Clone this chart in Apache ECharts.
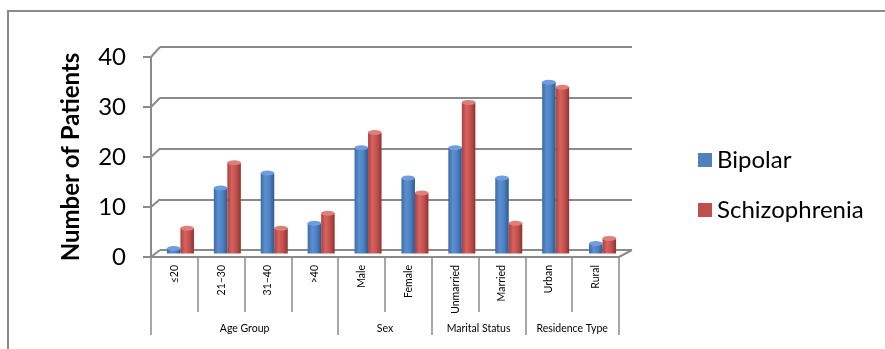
<!DOCTYPE html>
<html><head><meta charset="utf-8">
<script src="https://cdn.jsdelivr.net/npm/echarts@6/dist/echarts.min.js"></script>
<style>html,body{margin:0;padding:0;background:#fff}#chart{width:885px;height:349px}</style>
</head><body><div id="chart"></div>
<script>
// Patient counts by demographic category
const categories = ['≤20', '21–30', '31–40', '>40', 'Male', 'Female', 'Unmarried', 'Married', 'Urban', 'Rural'];
const groups = ['Age Group', 'Sex', 'Marital Status', 'Residence Type'];
const groupSizes = [4, 2, 2, 2];
const bipolar = [1, 13, 16, 6, 21, 15, 21, 15, 34, 2];
const schizophrenia = [5, 18, 5, 8, 24, 12, 30, 6, 33, 3];
const yTicks = [0, 10, 20, 30, 40];

// group boundaries and centres on a 0..N scale
const bounds = [0];
groupSizes.forEach(s => bounds.push(bounds[bounds.length - 1] + s));
const centers = groupSizes.map((s, i) => bounds[i] + s / 2);

const FONT = 'Lato, "Open Sans", sans-serif';
const GRAY = '#8a8a8a';
const W = 885, H = 349;
// front plane, back wall and mid plane (bars) of the pseudo-3D box
const front = { left: 151, right: W - 619, top: 57, bottom: H - 257, outerBoundsMode: 'none' };
const back = { left: 160, right: W - 632, top: 47, bottom: H - 250, outerBoundsMode: 'none' };
const mid = { left: 157, right: W - 626, top: 52, bottom: H - 253.5, outerBoundsMode: 'none' };

function cyl(stops) {
  return { type: 'linear', x: 0, y: 0, x2: 1, y2: 0,
    colorStops: stops.map((c, i) => ({ offset: i / (stops.length - 1), color: c })) };
}
const blueBody = cyl(['#3d6aa5', '#5b8fd1', '#4d80c0', '#2d5a91']);
const redBody = cyl(['#a84340', '#d8625e', '#c0504d', '#8e3330']);

const chart = echarts.init(document.getElementById('chart'), null, { renderer: 'canvas' });
const yMax = yTicks[yTicks.length - 1];
const yStep = yTicks[1] - yTicks[0];

const option = {
  animation: false,
  textStyle: { fontFamily: FONT },
  grid: [
    Object.assign({}, front),
    Object.assign({}, back),
    Object.assign({}, mid)
  ],
  legend: {
    orient: 'vertical', left: 693, top: 143,
    icon: 'rect', itemWidth: 14, itemHeight: 14, itemGap: 26,
    textStyle: { fontFamily: FONT, fontSize: 24, color: '#000', lineHeight: 22 },
    data: [
      { name: 'Bipolar', itemStyle: { color: '#4f81bd' } },
      { name: 'Schizophrenia', itemStyle: { color: '#c0504d' } }
    ]
  },
  xAxis: [
    { type: 'category', gridIndex: 0, position: 'bottom', data: categories,
      axisLine: { lineStyle: { color: GRAY, width: 2 } },
      axisTick: { show: true, interval: 0, length: 55, lineStyle: { color: GRAY, width: 1.5 } },
      axisLabel: { interval: 0, rotate: 90, fontSize: 10.5, color: '#000', margin: 8, fontFamily: FONT } },
    { type: 'value', gridIndex: 0, position: 'bottom', min: 0, max: categories.length, offset: 55,
      axisLine: { show: false }, splitLine: { show: false },
      axisTick: { show: true, customValues: bounds, length: 23, lineStyle: { color: GRAY, width: 1.5 } },
      axisLabel: { customValues: centers, fontSize: 10.5, color: '#000', margin: 11, fontFamily: FONT,
        formatter: v => groups[centers.indexOf(v)] || '' } },
    { type: 'category', gridIndex: 1, data: categories, show: false },
    { type: 'category', gridIndex: 2, data: categories, show: false }
  ],
  yAxis: [
    { type: 'value', gridIndex: 0, min: 0, max: yMax, interval: yStep,
      name: 'Number of Patients', nameLocation: 'middle', nameGap: 68,
      nameTextStyle: { fontSize: 24, fontWeight: 'bold', color: '#000', fontFamily: FONT },
      axisLine: { show: true, lineStyle: { color: GRAY, width: 2 } },
      axisTick: { show: true, length: 8, lineStyle: { color: GRAY, width: 2 } },
      axisLabel: { fontSize: 24, color: '#000', margin: 25, fontFamily: FONT },
      splitLine: { show: false } },
    { type: 'value', gridIndex: 1, min: 0, max: yMax, interval: yStep,
      axisLine: { show: false }, axisTick: { show: false }, axisLabel: { show: false },
      splitLine: { show: true, lineStyle: { color: GRAY, width: 2 } } },
    { type: 'value', gridIndex: 2, min: 0, max: yMax, interval: yStep, show: false,
      splitLine: { show: false } }
  ],
  series: [
    { name: 'Bipolar', type: 'bar', xAxisIndex: 3, yAxisIndex: 2, data: bipolar,
      barWidth: 13.5, barGap: '0%', itemStyle: { color: blueBody }, z: 3 },
    { name: 'Schizophrenia', type: 'bar', xAxisIndex: 3, yAxisIndex: 2, data: schizophrenia,
      barWidth: 13.5, barGap: '0%', itemStyle: { color: redBody }, z: 3 },
    { name: 'Bipolar cap', type: 'pictorialBar', xAxisIndex: 3, yAxisIndex: 2, data: bipolar,
      barWidth: 13.5, barGap: '0%', symbol: 'circle', symbolSize: [13.5, 5],
      symbolPosition: 'end', symbolOffset: [0, '-50%'], silent: true, z: 4,
      itemStyle: { color: '#6f9de0' } },
    { name: 'Schizophrenia cap', type: 'pictorialBar', xAxisIndex: 3, yAxisIndex: 2, data: schizophrenia,
      barWidth: 13.5, barGap: '0%', symbol: 'circle', symbolSize: [13.5, 5],
      symbolPosition: 'end', symbolOffset: [0, '-50%'], silent: true, z: 4,
      itemStyle: { color: '#e07e7a' } }
  ]
};
chart.setOption(option);

// depth connectors from the front value axis to the back wall, plus outer frame
const elements = [
  { type: 'polyline', shape: { points: [[8, H], [8, 11], [W, 11]] },
    style: { stroke: GRAY, lineWidth: 2, fill: null }, silent: true }
];
yTicks.forEach(v => {
  const yf = chart.convertToPixel({ yAxisIndex: 0 }, v);
  const yb = chart.convertToPixel({ yAxisIndex: 1 }, v);
  elements.push({ type: 'line', shape: { x1: front.left, y1: yf, x2: back.left, y2: yb },
    style: { stroke: GRAY, lineWidth: 2 }, silent: true, z: 1 });
});
const yf0 = chart.convertToPixel({ yAxisIndex: 0 }, 0);
const yb0 = chart.convertToPixel({ yAxisIndex: 1 }, 0);
elements.push({ type: 'line', shape: { x1: W - front.right, y1: yf0, x2: W - back.right, y2: yb0 },
  style: { stroke: GRAY, lineWidth: 2 }, silent: true, z: 1 });
chart.setOption({ graphic: elements });
</script>
</body></html>
